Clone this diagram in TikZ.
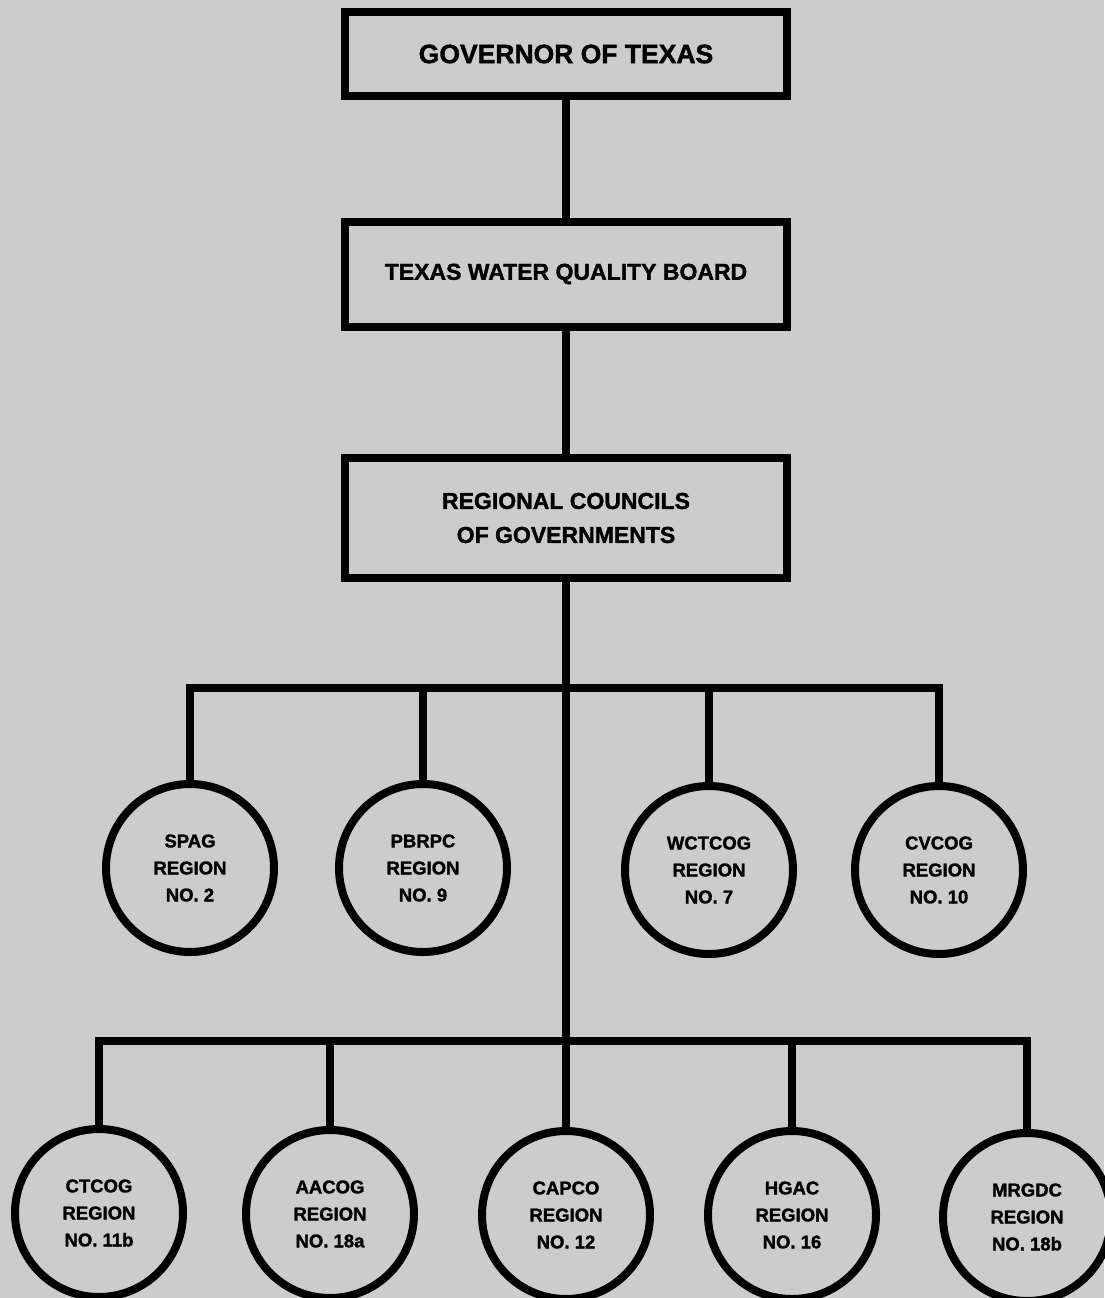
\documentclass[tikz,border=0pt]{standalone}
\usepackage{fontspec}
\setmainfont{Liberation Sans}[BoldFeatures={FakeBold=1.5}]
\usetikzlibrary{positioning}
\definecolor{paper}{gray}{0.80}

\begin{document}
\begin{tikzpicture}[x=1pt,y=-1pt,line width=8pt,
  office/.style={draw,line width=8pt,inner sep=0pt,minimum width=442pt,
    align=center,font=\bfseries\fontsize{23}{34}\selectfont},
  council/.style={draw,circle,line width=8pt,inner sep=0pt,minimum size=168pt,
    align=center,font=\bfseries\fontsize{18.5}{27}\selectfont}]

\fill[paper] (0,0) rectangle (1104,1298);
\useasboundingbox (0,0) rectangle (1104,1298);

\node[office,minimum height=84pt,font=\bfseries\fontsize{26.5}{30}\selectfont] (gov) at (566,54) {GOVERNOR OF TEXAS};
\node[office,minimum height=105pt] (twqb) at (566,274) {TEXAS WATER QUALITY BOARD};
\node[office,minimum height=120pt] (rcog) at (566,518) {REGIONAL COUNCILS\\OF GOVERNMENTS};

\node[council] (spag) at (190,868) {SPAG\\REGION\\NO. 2};
\node[council] (pbrpc) at (423,868) {PBRPC\\REGION\\NO. 9};
\node[council] (wctcog) at (709,870) {WCTCOG\\REGION\\NO. 7};
\node[council] (cvcog) at (939,870) {CVCOG\\REGION\\NO. 10};

\node[council] (ctcog) at (99,1213) {CTCOG\\REGION\\NO. 11b};
\node[council] (aacog) at (330,1214) {AACOG\\REGION\\NO. 18a};
\node[council] (capco) at (566,1215) {CAPCO\\REGION\\NO. 12};
\node[council] (hgac) at (792,1215) {HGAC\\REGION\\NO. 16};
\node[council] (mrgdc) at (1027,1217) {MRGDC\\REGION\\NO. 18b};

\coordinate (bar1) at (566,688);
\coordinate (bar2) at (566,1041);

\draw (gov) -- (twqb);
\draw (twqb) -- (rcog);
\draw (rcog) -- (capco);

\draw (spag) |- (bar1) -| (cvcog);
\draw (pbrpc) -- (pbrpc |- bar1);
\draw (wctcog) -- (wctcog |- bar1);

\draw (ctcog) |- (bar2) -| (mrgdc);
\draw (aacog) -- (aacog |- bar2);
\draw (hgac) -- (hgac |- bar2);
\end{tikzpicture}
\end{document}
